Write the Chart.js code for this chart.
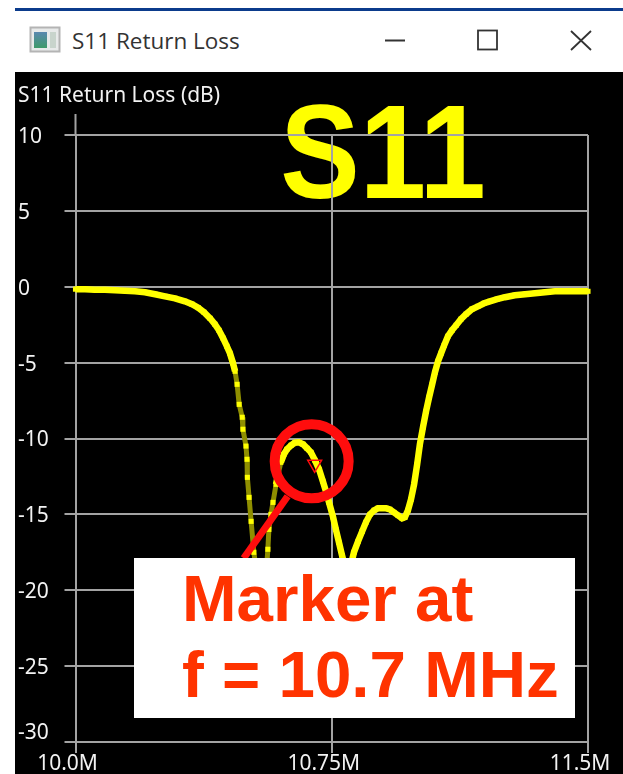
<!DOCTYPE html>
<html>
<head>
<meta charset="utf-8">
<title>S11 Return Loss</title>
<script src="https://cdn.jsdelivr.net/npm/chart.js@4"></script>
<style>
  html, body { margin: 0; padding: 0; background: #fff; }
  #page { position: relative; width: 623px; height: 774px; overflow: hidden; }
  #topline { position: absolute; left: 15px; right: 0; top: 8px; height: 3px; background: #0b3b8c; }
  #wintitle { position: absolute; left: 72px; top: 25px; font: 22.5px "Open Sans", sans-serif; color: #333; }
  #chrome { position: absolute; left: 0; top: 0; }
  #panel { position: absolute; left: 15px; top: 72px; width: 608px; height: 702px; background: #000; }
  canvas { display: block; filter: blur(0.4px); }
</style>
</head>
<body>
<div id="page">
  <div id="topline"></div>
  <svg id="chrome" width="623" height="72">
    <defs>
      <linearGradient id="ico" x1="0" y1="0" x2="0" y2="1">
        <stop offset="0" stop-color="#5a88b0"/><stop offset="1" stop-color="#3f9a6a"/>
      </linearGradient>
    </defs>
    <rect x="30.5" y="27.5" width="29" height="24" fill="#e8eaea" stroke="#b4b4b4" stroke-width="2"/>
    <rect x="34" y="32" width="13" height="16" fill="url(#ico)"/>
    <rect x="50" y="32" width="6" height="16" fill="#c8d4cc"/>
    <line x1="385" y1="40.5" x2="405" y2="40.5" stroke="#333" stroke-width="2"/>
    <rect x="478" y="30.5" width="19" height="19" fill="none" stroke="#333" stroke-width="1.8"/>
    <path d="M571 31 L591 50 M591 31 L571 50" stroke="#333" stroke-width="1.8" fill="none"/>
  </svg>
  <div id="wintitle">S11 Return Loss</div>
  <div id="panel"><canvas id="s11Chart" width="608" height="702"></canvas></div>
</div>
<script>
const chartTitle = "S11 Return Loss (dB)";
const xTickLabels = ["10.0M", "10.75M", "11.5M"];

// MHz / dB
const freqMHz = [
  10.000, 10.028, 10.057, 10.086, 10.116, 10.145, 10.174, 10.203, 10.233, 10.262,
  10.291, 10.320, 10.341, 10.359, 10.376, 10.394, 10.408, 10.420, 10.432, 10.443,
  10.452, 10.461, 10.467, 10.473, 10.479, 10.488, 10.490, 10.499, 10.502, 10.503,
  10.508, 10.514, 10.522, 10.531, 10.540, 10.549, 10.558, 10.563, 10.566, 10.572,
  10.578, 10.587, 10.593, 10.601, 10.610, 10.619, 10.631, 10.642, 10.654, 10.666,
  10.678, 10.689, 10.701, 10.713, 10.724, 10.733, 10.742, 10.754, 10.762, 10.771,
  10.780, 10.789, 10.798, 10.806, 10.815, 10.827, 10.839, 10.850, 10.862, 10.874,
  10.885, 10.897, 10.909, 10.920, 10.932, 10.944, 10.956, 10.964, 10.973, 10.982,
  10.991, 11.000, 11.008, 11.017, 11.026, 11.035, 11.044, 11.052, 11.061, 11.070,
  11.079, 11.090, 11.102, 11.114, 11.128, 11.143, 11.160, 11.178, 11.196, 11.213,
  11.234, 11.257, 11.286, 11.316, 11.345, 11.374, 11.403, 11.433, 11.462, 11.500
];
const returnLossDb = [
  -0.16, -0.16, -0.20, -0.20, -0.23, -0.26, -0.30, -0.36, -0.49, -0.63,
  -0.76, -0.96, -1.15, -1.38, -1.68, -2.08, -2.47, -2.87, -3.39, -3.92,
  -4.38, -5.04, -5.57, -6.43, -7.75, -8.60, -9.39, -10.50, -11.37, -12.56,
  -13.88, -15.46, -17.50, -18.95, -19.94, -20.07, -18.95, -17.30, -15.99, -15.00,
  -14.21, -13.02, -12.36, -11.57, -11.04, -10.71, -10.45, -10.28, -10.25, -10.38,
  -10.65, -10.91, -11.44, -12.03, -12.82, -13.48, -14.21, -15.19, -15.99, -16.84,
  -17.70, -18.49, -18.75, -18.36, -17.50, -16.78, -16.12, -15.52, -15.00, -14.73,
  -14.60, -14.60, -14.60, -14.67, -14.87, -15.06, -15.26, -15.19, -14.73, -14.01,
  -13.02, -11.70, -10.38, -9.26, -8.21, -7.28, -6.43, -5.64, -4.91, -4.38,
  -3.86, -3.26, -2.87, -2.54, -2.14, -1.81, -1.48, -1.29, -1.09, -0.96,
  -0.82, -0.69, -0.56, -0.49, -0.43, -0.36, -0.30, -0.30, -0.30, -0.30
];
const markerFreq = [10.7];
const markerDb = [-11.7];

const gridColor = "#a3a3a3";
const labelFont = { family: "'Noto Sans', sans-serif", size: 21, lineHeight: 1 };
const red = "#ff0d0d";
const orange = "#ff3300";

let tracePoints = freqMHz.map((f, i) => ({ x: f, y: returnLossDb[i] }));
let markerPoints = markerFreq.map((f, i) => ({ x: f, y: markerDb[i] }));

// big yellow caption goes under the grid, callout and white box on top
const annotations = {
  id: "annotations",
  beforeDraw(chart) {
    const ctx = chart.ctx;
    ctx.save();
    ctx.fillStyle = "#ffff00";
    ctx.font = "bold 134px 'Liberation Sans', sans-serif";
    ctx.textAlign = "center";
    ctx.textBaseline = "alphabetic";
    ctx.translate(368, 126);
    ctx.scale(0.89, 1);
    ctx.fillText("S11", 0, 0);
    ctx.restore();
  },
  afterDatasetsDraw(chart) {
    const ctx = chart.ctx;
    const xs = chart.scales.x;
    const ys = chart.scales.y;

    // axis runs a bit above the 10 dB line
    ctx.save();
    ctx.strokeStyle = gridColor;
    ctx.lineWidth = 2;
    ctx.beginPath();
    ctx.moveTo(xs.left, ys.top);
    ctx.lineTo(xs.left, ys.top - 21);
    ctx.stroke();

    const cx = xs.getPixelForValue(markerFreq[0]) - 3;
    const cy = ys.getPixelForValue(markerDb[0]) - 3;
    ctx.strokeStyle = red;
    ctx.lineWidth = 10;
    ctx.beginPath();
    ctx.arc(cx, cy, 37, 0, Math.PI * 2);
    ctx.stroke();
    ctx.lineWidth = 7;
    ctx.beginPath();
    ctx.moveTo(cx - 24, cy + 35);
    ctx.lineTo(cx - 68, cy + 97);
    ctx.stroke();

    ctx.fillStyle = "#fff";
    ctx.fillRect(119, 486, 441, 160);
    ctx.fillStyle = orange;
    ctx.font = "bold 65.5px 'Liberation Sans', sans-serif";
    ctx.textAlign = "left";
    ctx.textBaseline = "alphabetic";
    ctx.fillText("Marker at", 167, 549);
    ctx.fillText("f = 10.7 MHz", 167, 625);
    ctx.restore();
  },
};

let s11Chart = new Chart(document.getElementById("s11Chart").getContext("2d"), {
  type: "scatter",
  data: {
    datasets: [
      {
        label: "S11",
        data: tracePoints,
        showLine: true,
        clip: false,
        borderColor: "#ffff00",
        borderWidth: 6.5,
        pointStyle: "rect",
        pointRadius: 3.6,
        pointBackgroundColor: "#ffff00",
        pointBorderWidth: 0,
        segment: {
          // the fast drop on the left is sparse in the sweep so it reads darker
          borderColor: (c) =>
            c.p0.parsed.x < 10.6 && Math.abs(c.p1.y - c.p0.y) > 11 ? "#8f8f00" : undefined,
          borderWidth: (c) =>
            c.p0.parsed.x < 10.6 && Math.abs(c.p1.y - c.p0.y) > 11 ? 5 : undefined,
        },
        order: 2,
      },
      {
        label: "Marker",
        data: markerPoints,
        pointStyle: "triangle",
        rotation: 180,
        pointRadius: 8,
        pointBackgroundColor: "transparent",
        pointBorderColor: red,
        pointBorderWidth: 1.5,
        order: 1,
      },
    ],
  },
  options: {
    responsive: false,
    animation: false,
    layout: { padding: { left: 3, right: 35, top: 0, bottom: 0 } },
    plugins: {
      legend: { display: false },
      tooltip: { enabled: false },
      title: {
        display: true,
        text: chartTitle,
        align: "start",
        color: "#f2f2f2",
        font: { ...labelFont, weight: "normal" },
        padding: { top: 13.5, bottom: 28.5 },
      },
    },
    scales: {
      x: {
        type: "linear",
        min: 10,
        max: 11.5,
        afterFit: (s) => { s.height = 32; },
        grid: { color: gridColor, lineWidth: 2, tickLength: 11, tickColor: gridColor },
        border: { color: gridColor, width: 2 },
        ticks: {
          stepSize: 0.75,
          color: "#f2f2f2",
          font: labelFont,
          padding: 1,
          labelOffset: -8,
          maxRotation: 0,
          callback: (v, i) => xTickLabels[i],
        },
      },
      y: {
        min: -30,
        max: 10,
        afterFit: (s) => { s.width = 57.5; },
        grid: { color: gridColor, lineWidth: 2, tickLength: 11, tickColor: gridColor },
        border: { color: gridColor, width: 2 },
        ticks: {
          stepSize: 5,
          color: "#f2f2f2",
          font: labelFont,
          crossAlign: "far",
          labelOffset: 2,
          // bottom label sits above its line
          callback: (v) => (v === -30 ? [String(v), ""] : String(v)),
        },
      },
    },
  },
  plugins: [annotations],
});
</script>
</body>
</html>
